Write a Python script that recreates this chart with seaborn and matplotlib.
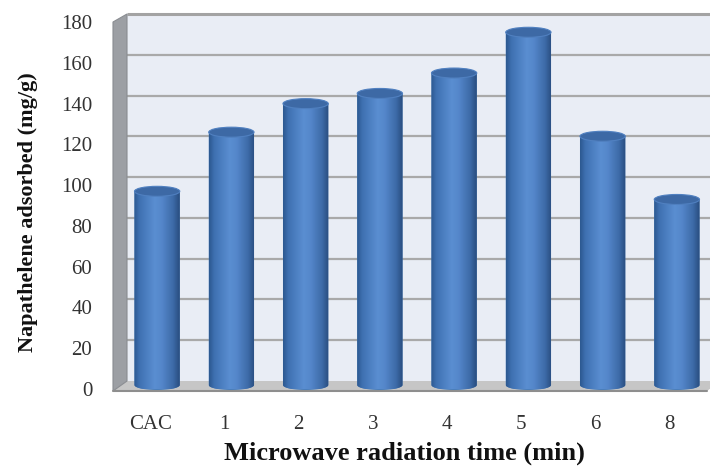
import numpy as np
import pandas as pd
import matplotlib
matplotlib.use("Agg")
import matplotlib.pyplot as plt
import seaborn as sns
from matplotlib.transforms import ScaledTranslation, IdentityTransform
from matplotlib.patches import Polygon, Ellipse, PathPatch, Rectangle
from matplotlib.path import Path
from matplotlib.colors import LinearSegmentedColormap

# ---- data ----
categories = ["CAC", "1", "2", "3", "4", "5", "6", "8"]
adsorbed = [95, 124, 138, 143, 153, 173, 122, 91]
y_ticks = [0, 20, 40, 60, 80, 100, 120, 140, 160, 180]
x_title = "Microwave radiation time (min)"
y_title = "Napathelene adsorbed (mg/g)"

sns.set_theme(style="white")
plt.rcParams['font.family'] = ['Liberation Serif', 'DejaVu Serif']

W, H = 710, 467
fig = plt.figure(figsize=(W / 100, H / 100), dpi=100)
fig.patch.set_facecolor("white")
ax = fig.add_axes([113 / W, (H - 389) / H, 594 / W, 367 / H])
ax.set_facecolor("none")

df = pd.DataFrame({"time": categories, "adsorbed": adsorbed})
sns.barplot(data=df, x="time", y="adsorbed", color="#4A7EBB", width=0.61,
            saturation=1, ax=ax, zorder=3, errorbar=None)
ax.set_ylim(0, 180)
ax.set_xlim(-0.5, 7.5)

dpi_t = fig.dpi_scale_trans
back = ScaledTranslation(14 / 100, 8 / 100, dpi_t)
mid = ScaledTranslation(7 / 100, 4 / 100, dpi_t)

# back wall
ax.add_patch(Rectangle((0, 0), 1, 1, transform=ax.transAxes + back,
                       fc="#E9EDF5", ec="none", zorder=0, clip_on=False))
ax.plot([0, 1], [1, 1], transform=ax.transAxes + back, color="#A3A3A3",
        lw=2.2, zorder=1, clip_on=False, solid_capstyle="butt")
for t in y_ticks[1:-1]:
    ax.plot([0, 1], [t, t], transform=ax.get_yaxis_transform() + back,
            color="#A9A9A9", lw=1.6, zorder=1, clip_on=False)

# left wall and floor (display coords, drawn behind the bars)
fig.canvas.draw()
def disp(pt, off=(0, 0)):
    p = ax.transAxes.transform(pt)
    return (p[0] + off[0], p[1] + off[1])

dx, dy = 14, 8
ident = IdentityTransform()
left_wall = Polygon([disp((0, 0), (0, -2)), disp((0, 0), (dx, dy)), disp((0, 1), (dx, dy)),
                     disp((0, 1))], closed=True, transform=ident,
                    fc="#9C9FA4", ec="#8A8D92", lw=0.8, zorder=1.2, clip_on=False)
ax.add_artist(left_wall)
floor = Polygon([disp((0, 0), (0, -2)), disp((1, 0), (0, -2)), disp((1, 0), (dx, dy)),
                 disp((0, 0), (dx, dy))], closed=True, transform=ident,
                fc="#C6C6C6", ec="none", zorder=1.1, clip_on=False)
ax.add_artist(floor)
fl = plt.Line2D([disp((0, 0), (0, -2))[0], disp((1, 0), (0, -2))[0]],
                [disp((0, 0), (0, -2))[1]] * 2, transform=ident,
                color="#8E8E8E", lw=1.5, zorder=1.3, clip_on=False)
ax.add_artist(fl)

# cylinders
grad = LinearSegmentedColormap.from_list("cyl", [
    (0.0, "#2C5890"), (0.12, "#3F71B2"), (0.45, "#5A8ED1"),
    (0.6, "#5587CB"), (0.85, "#3D6BA8"), (1.0, "#284C7E")])
px_per_unit = ax.transData.transform((0, 1))[1] - ax.transData.transform((0, 0))[1]
eh = 10 / px_per_unit
gimg = np.linspace(0, 1, 256).reshape(1, -1)
bars = [p for p in ax.patches if isinstance(p, Rectangle) and p.get_zorder() == 3]
for p in bars:
    x, w, h = p.get_x(), p.get_width(), p.get_height()
    cx = x + w / 2
    p.set_visible(False)
    th = np.linspace(np.pi, 2 * np.pi, 60)
    verts = [(x, h), (x, 0)] + [(cx + w / 2 * np.cos(a), eh / 2 * np.sin(a)) for a in th] \
        + [(x + w, h), (x, h)]
    codes = [Path.MOVETO] + [Path.LINETO] * (len(verts) - 2) + [Path.CLOSEPOLY]
    body = PathPatch(Path(verts, codes), fc="#4A7EBB", ec="none",
                     transform=ax.transData + mid, zorder=3, clip_on=False)
    ax.add_patch(body)
    im = ax.imshow(gimg, cmap=grad, aspect="auto", extent=(x, x + w, -eh / 2, h),
                   zorder=3.5, interpolation="bilinear")
    im.set_transform(ax.transData + mid)
    im.set_clip_path(body)
    im.set_clip_box(None)
    top = Ellipse((cx, h), w, eh, fc="#3D69A5", ec="#5080C0", lw=0.8,
                  transform=ax.transData + mid, zorder=4, clip_on=False)
    ax.add_patch(top)

ax.set_ylim(0, 180)
ax.set_xlim(-0.5, 7.5)
ax.set_yticks(y_ticks)
ax.set_xlabel("")
ax.set_ylabel("")
for s in ax.spines.values():
    s.set_visible(False)
ax.grid(False)
ax.tick_params(axis="y", length=0, pad=15, labelsize=15, labelcolor="#333333")
ax.tick_params(axis="x", length=0, pad=19, labelsize=15, labelcolor="#333333")

fig.text(404 / W, (H - 453) / H, x_title, ha="center", va="center",
         fontsize=19, fontweight="bold", color="#111111")
fig.text(28 / W, (H - 212) / H, y_title, ha="center", va="center", rotation=90,
         fontsize=16, fontweight="bold", color="#111111")

fig.savefig("out.png", dpi=100)
